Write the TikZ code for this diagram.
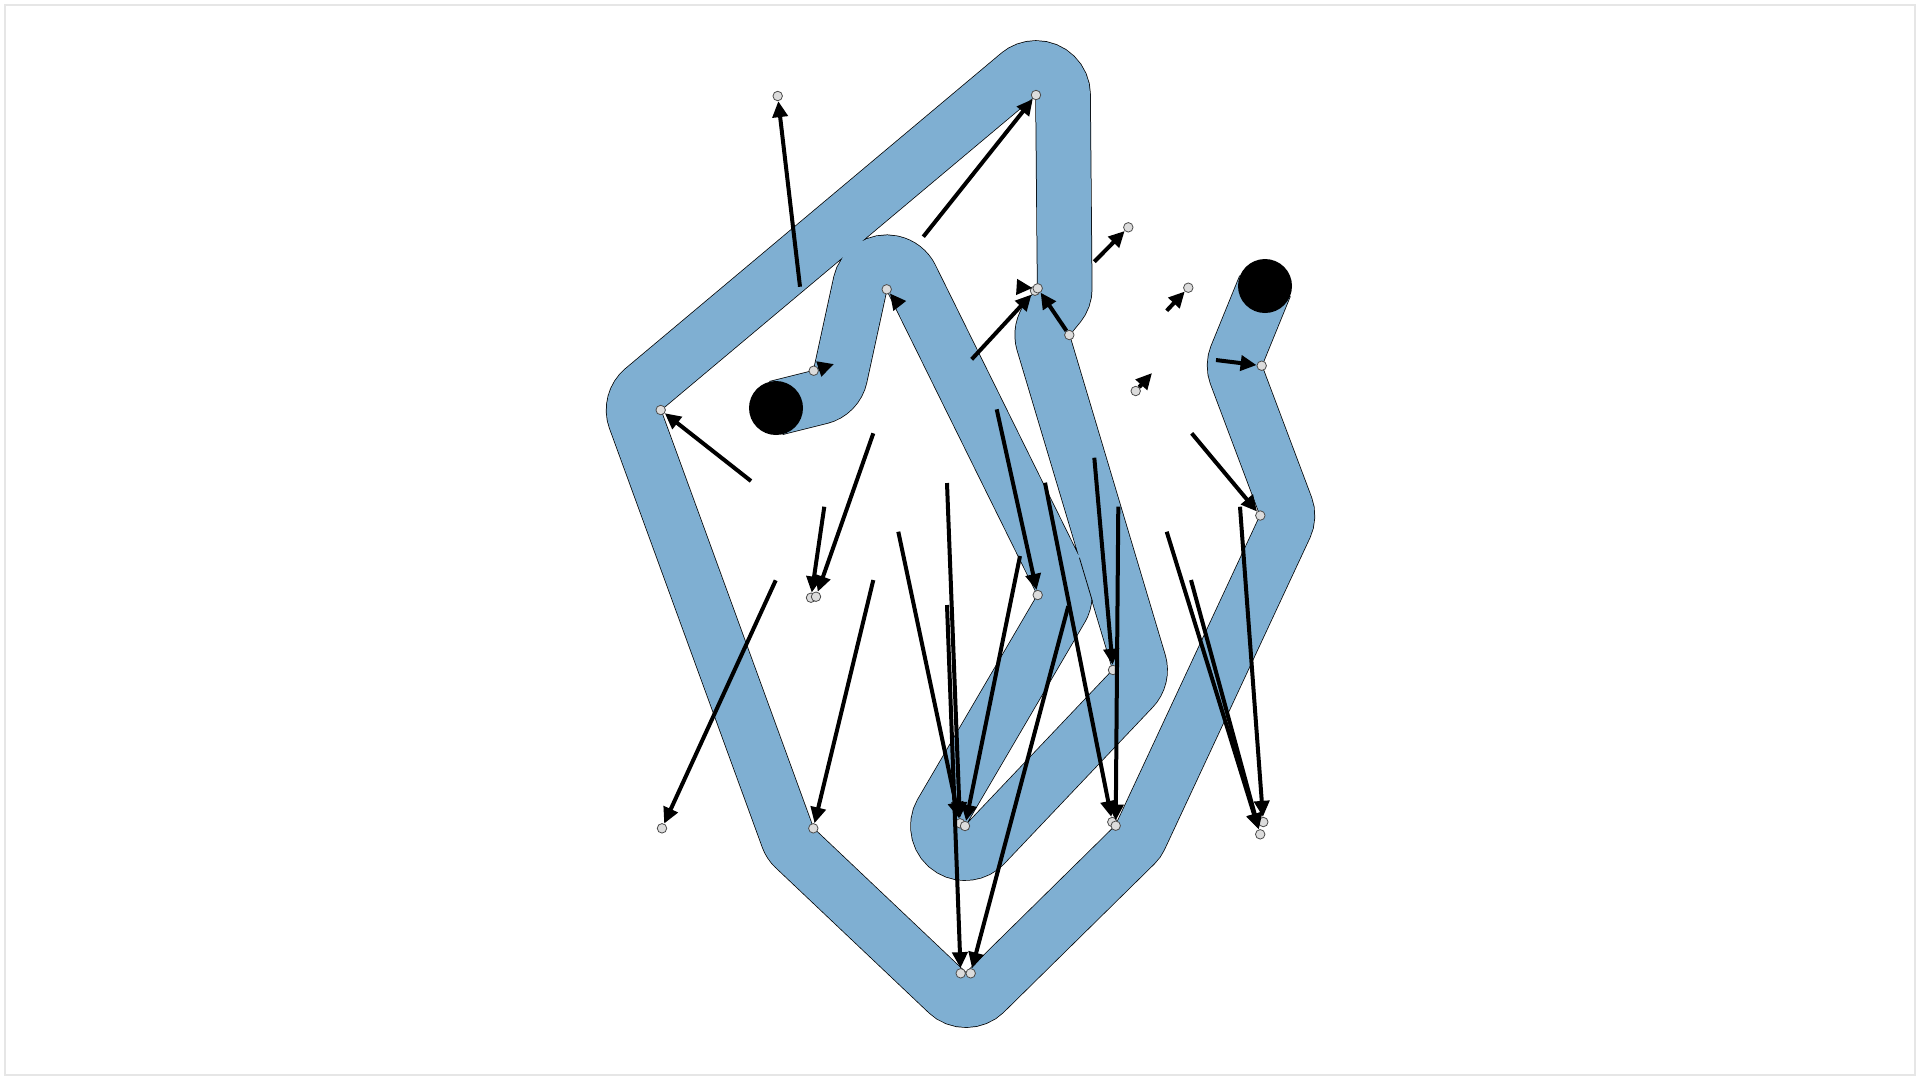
\documentclass[tikz,border=0pt]{standalone}
\usepackage{xcolor}
\usepackage{tikz}
\usetikzlibrary{arrows.meta}
\definecolor{bandblue}{HTML}{7FAFD2}
\definecolor{nodegray}{HTML}{DCDCDC}
\definecolor{framegray}{HTML}{E6E6E6}

\tikzset{
  dotnode/.style={circle, fill=nodegray, draw=black!70, line width=0.08mm,
                  inner sep=0pt, minimum size=0.95mm},
  endcap/.style={circle, fill=black, inner sep=0pt, minimum size=5.4mm},
  arr/.style={-{Triangle[length=1.6mm, width=1.5mm]}, line width=0.4mm},
  band/.style={draw=bandblue, line width=5.4mm,
               preaction={draw=black, line width=5.55mm}},
}

\begin{document}
\begin{tikzpicture}[x=0.1mm, y=-0.1mm]
\useasboundingbox (0,0) rectangle (1920,1080);
\draw[framegray, line width=0.15mm] (5,5) rectangle (1915,1075);

% the thick route
\path[band] (776,408) -- (820.3,396.9)
  arc[start angle=75.9, end angle=12.2, radius=27] -- (860.3,283.6)
  arc[start angle=192.2, end angle=333.6, radius=27] -- (1061.9,583.0)
  arc[start angle=-26.4, end angle=30.3, radius=27] -- (941.7,812.4)
  arc[start angle=210.3, end angle=43.5, radius=27] -- (1132.6,688.6)
  arc[start angle=43.5, end angle=-16.6, radius=27] -- (1043.4,342.7)
  arc[start angle=163.4, end angle=219.3, radius=27] -- (1058.6,305.4)
  arc[start angle=39.3, end angle=-0.5, radius=27] -- (1063.0,94.8)
  arc[start angle=-0.5, end angle=-130.0, radius=27] -- (643.3,389.3)
  arc[start angle=-130.0, end angle=-200.1, radius=27] -- (787.9,837.6)
  arc[start angle=159.9, end angle=133.5, radius=27] -- (947.4,992.6)
  arc[start angle=133.5, end angle=45.4, radius=27] -- (1134.6,844.9)
  arc[start angle=45.4, end angle=25.0, radius=27] -- (1284.8,526.9)
  arc[start angle=25.0, end angle=-20.6, radius=27] -- (1236.4,375.2)
  arc[start angle=159.4, end angle=202.2, radius=27] -- (1265,286);
% edge of the later run where it lies over the earlier one
\draw[line width=0.075mm] (1079.4,557.7) -- (1092.5,601.5);
\node[endcap] (dota) at (776,408) {};
\node[endcap] (dotb) at (1265,286) {};

% points
\node[dotnode] (n1) at (777.7,96) {};
\node[dotnode] (n2) at (1036,95) {};
\node[dotnode] (n3) at (1128.3,227.3) {};
\node[dotnode] (n4) at (886.7,289.3) {};
\node[dotnode] (n5b) at (1035,290.7) {};
\node[dotnode] (n5a) at (1037.7,288.3) {};
\node[dotnode] (n6) at (1188.3,287.7) {};
\node[dotnode] (n7) at (1069.3,335) {};
\node[dotnode] (n8) at (813.7,370.7) {};
\node[dotnode] (n9) at (1261.7,365.7) {};
\node[dotnode] (n10) at (1135.7,391) {};
\node[dotnode] (n11) at (660.7,410) {};
\node[dotnode] (n12) at (1260.3,515.5) {};
\node[dotnode] (n13a) at (811,597.7) {};
\node[dotnode] (n13b) at (816,596.7) {};
\node[dotnode] (n14) at (1037.7,595) {};
\node[dotnode] (n15) at (1113,670) {};
\node[dotnode] (n16a) at (960,823.3) {};
\node[dotnode] (n16b) at (965,826) {};
\node[dotnode] (n17a) at (1112.3,822) {};
\node[dotnode] (n17b) at (1115.7,825.7) {};
\node[dotnode] (n18a) at (1263.3,822) {};
\node[dotnode] (n18b) at (1260.2,834.3) {};
\node[dotnode] (n19) at (662,828.3) {};
\node[dotnode] (n20) at (813.3,828.3) {};
\node[dotnode] (n21a) at (960.7,973.3) {};
\node[dotnode] (n21b) at (970.7,973.3) {};

% loose arrow ends
\coordinate (s1) at (800,286.7);
\coordinate (s2) at (923.3,236.7);
\coordinate (s3) at (1094.3,261.7);
\coordinate (s5) at (971.7,359.3);
\coordinate (s6) at (1166.7,310.7);
\coordinate (s9) at (1216,360);
\coordinate (s11) at (751,481);
\coordinate (s12) at (1191.7,433.3);
\coordinate (s13a) at (824.3,506.7);
\coordinate (s13b) at (873.3,433.3);
\coordinate (s14) at (996.7,409.3);
\coordinate (s15) at (1094.3,457.7);
\coordinate (s16a) at (898.3,531.7);
\coordinate (s16b) at (947,483);
\coordinate (s16c) at (1020,556);
\coordinate (s17a) at (1045,482.7);
\coordinate (s17b) at (1118.3,506.7);
\coordinate (s18a) at (1240,506.7);
\coordinate (s18b) at (1166.7,531.7);
\coordinate (s18c) at (1191,580);
\coordinate (s19) at (775.7,580.3);
\coordinate (s20) at (873.3,580);
\coordinate (s21a) at (947,605);
\coordinate (s21b) at (1068.3,606);
\coordinate (h4) at (899,305);
\coordinate (h5) at (1017.5,287);
\coordinate (h8) at (834,364);
\coordinate (h10) at (1152,373);

\draw[arr] (s1) -- (n1);
\draw[arr] (s2) -- (n2);
\draw[arr] (s3) -- (n3);
\draw[arr] (h4) -- (n4);
\draw[arr] (h5) -- (n5a);
\draw[arr] (n7) -- (n5a);
\draw[arr] (s5) -- (n5b);
\draw[arr] (s6) -- (n6);
\draw[arr] (n8) -- (h8);
\draw[arr] (s9) -- (n9);
\draw[arr] (n10) -- (h10);
\draw[arr] (s11) -- (n11);
\draw[arr] (s12) -- (n12);
\draw[arr] (s13a) -- (n13a);
\draw[arr] (s13b) -- (n13b);
\draw[arr] (s14) -- (n14);
\draw[arr] (s15) -- (n15);
\draw[arr] (s16a) -- (n16a);
\draw[arr] (s16b) -- (n16a);
\draw[arr] (s16c) -- (n16b);
\draw[arr] (s17a) -- (n17a);
\draw[arr] (s17b) -- (n17b);
\draw[arr] (s18a) -- (n18a);
\draw[arr] (s18b) -- (n18b);
\draw[arr] (s18c) -- (n18b);
\draw[arr] (s19) -- (n19);
\draw[arr] (s20) -- (n20);
\draw[arr] (s21a) -- (n21a);
\draw[arr] (s21b) -- (n21b);
\end{tikzpicture}
\end{document}
